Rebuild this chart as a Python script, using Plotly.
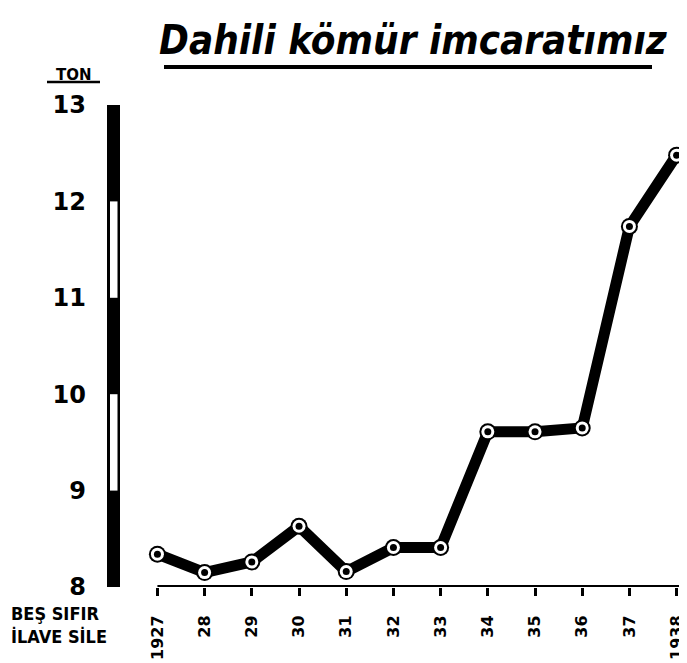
import plotly.graph_objects as go

# ---- data ----
years = [1927, 1928, 1929, 1930, 1931, 1932, 1933, 1934, 1935, 1936, 1937, 1938]
year_labels = ["1927", "28", "29", "30", "31", "32", "33", "34", "35", "36", "37", "1938"]
values = [8.34, 8.15, 8.26, 8.63, 8.16, 8.41, 8.41, 9.61, 9.61, 9.65, 11.74, 12.48]
y_ticks = [8, 9, 10, 11, 12, 13]
y_tick_labels = ["8", "9", "10", "11", "12", "13"]
title_text = "Dahili kömür imcaratımız"
unit_text = "TON"
note_lines = ["BEŞ SIFIR", "İLAVE SİLE"]

# ---- geometry: page body has an 8px margin, so work in window pixels minus 8 ----
OFF = 8
WIN_W, WIN_H = 687, 663
W, H = WIN_W - OFF, WIN_H - OFF
PLOT_L, PLOT_T, PLOT_B = 100, 105, 587      # window pixels
ML = PLOT_L - OFF
MT = PLOT_T - OFF
MB = H - (PLOT_B - OFF)
MR = 0
PW = W - ML - MR
PH = H - MT - MB
px_per_year = 47.2
x_right = years[-1] + 0.22
x_left = x_right - PW / px_per_year

def px_x(p):  # window pixel x -> paper
    return (p - PLOT_L) / PW

def px_y(p):  # window pixel y -> paper
    return (PLOT_B - p) / PH

FONT = "DejaVu Sans"
COND = "DejaVu Sans Condensed, DejaVu Sans"

fig = go.Figure()

fig.add_trace(go.Scatter(
    x=years, y=values, mode="lines",
    line=dict(color="black", width=11),
    hoverinfo="skip", showlegend=False,
))
fig.add_trace(go.Scatter(
    x=years, y=values, mode="markers",
    marker=dict(color="black", size=17, line=dict(width=0)),
    cliponaxis=False, showlegend=False, hoverinfo="skip",
))
fig.add_trace(go.Scatter(
    x=years, y=values, mode="markers",
    marker=dict(color="white", size=13, line=dict(width=0)),
    cliponaxis=False, showlegend=False, hoverinfo="skip",
))
fig.add_trace(go.Scatter(
    x=years, y=values, mode="markers",
    marker=dict(color="black", size=7, line=dict(width=0)),
    cliponaxis=False, showlegend=False,
    hovertemplate="%{x}: %{y}<extra></extra>",
))

shapes = []
shapes.append(dict(type="line", xref="x", yref="y", x0=years[0], x1=x_right,
                   y0=y_ticks[0], y1=y_ticks[0], line=dict(color="black", width=4)))
shapes.append(dict(type="rect", xref="paper", yref="y",
                   x0=px_x(107), x1=px_x(120), y0=y_ticks[0], y1=y_ticks[-1],
                   fillcolor="black", line=dict(width=0)))
for lo, hi in [(y_ticks[1], y_ticks[2]), (y_ticks[3], y_ticks[4])]:
    shapes.append(dict(type="rect", xref="paper", yref="y",
                       x0=px_x(110), x1=px_x(117.5), y0=lo, y1=hi,
                       fillcolor="white", line=dict(width=0)))
shapes.append(dict(type="line", xref="paper", yref="paper",
                   x0=px_x(164), x1=px_x(652), y0=px_y(67), y1=px_y(67),
                   line=dict(color="black", width=4)))
shapes.append(dict(type="line", xref="paper", yref="paper",
                   x0=px_x(47), x1=px_x(100), y0=px_y(82), y1=px_y(82),
                   line=dict(color="black", width=2.5)))

annotations = [
    dict(text=unit_text, xref="paper", yref="paper",
         x=px_x(74), y=px_y(75), showarrow=False,
         font=dict(family=FONT, size=15, color="black", weight="bold"),
         xanchor="center", yanchor="middle"),
    dict(text=note_lines[0], xref="paper", yref="paper",
         x=px_x(9), y=px_y(613), showarrow=False,
         font=dict(family=COND, size=18, color="black", weight="bold"),
         xanchor="left", yanchor="middle"),
    dict(text=note_lines[1], xref="paper", yref="paper",
         x=px_x(9), y=px_y(636), showarrow=False,
         font=dict(family=COND, size=18, color="black", weight="bold"),
         xanchor="left", yanchor="middle"),
    dict(text=title_text, xref="paper", yref="paper",
         x=px_x(413), y=px_y(40), showarrow=False,
         font=dict(family=COND, size=40, color="black", weight="bold", style="italic"),
         xanchor="center", yanchor="middle"),
]

fig.update_layout(
    width=W, height=H,
    margin=dict(l=ML, r=MR, t=MT, b=MB, pad=0, autoexpand=False),
    paper_bgcolor="white", plot_bgcolor="white",
    showlegend=False,
    shapes=shapes,
    annotations=annotations,
    xaxis=dict(range=[x_left, x_right], showgrid=False, zeroline=False,
               showline=False, tickmode="array", tickvals=years, ticktext=year_labels,
               tickangle=-90, ticks="outside", ticklen=8, tickwidth=3,
               tickcolor="black", ticklabelstandoff=13, ticklabeloverflow="allow",
               automargin=False,
               tickfont=dict(family=FONT, size=16, color="black", weight="bold")),
    yaxis=dict(range=[y_ticks[0], y_ticks[-1]], showgrid=False, zeroline=False,
               showline=False, tickmode="array", tickvals=y_ticks, ticktext=y_tick_labels,
               ticks="", ticklabelstandoff=13, automargin=False,
               tickfont=dict(family=FONT, size=24, color="black", weight="bold")),
)

fig.write_html("out.html")
